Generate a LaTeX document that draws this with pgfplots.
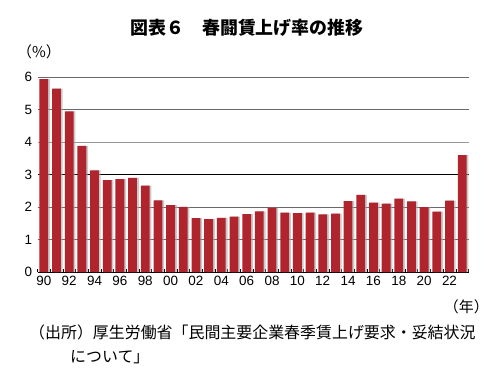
\documentclass[border=0pt]{standalone}
\usepackage{fontspec}
\setmainfont{Liberation Sans}
\newfontfamily\jp{Noto Sans CJK JP}
\usepackage{pgfplots}
\pgfplotsset{compat=1.18}
\definecolor{barred}{RGB}{176,36,46}
\definecolor{gridgray}{RGB}{105,105,105}
\begin{document}
\begin{tikzpicture}
\path[use as bounding box] (0bp,0bp) rectangle (489bp,379bp);
\begin{axis}[
  at={(37.5bp,106.8bp)}, anchor=south west,
  scale only axis, width=431bp, height=195bp,
  xmin=-0.5, xmax=33.5, ymin=0, ymax=6,
  axis x line*=bottom, axis y line*=left,
  x axis line style={black, line width=0.8pt},
  y axis line style={draw=none},
  xtick={0,2,...,32},
  xticklabels={90,92,94,96,98,00,02,04,06,08,10,12,14,16,18,20,22},
  major x tick style={draw=none},
  minor xtick={-0.5,0.5,...,33.5},
  minor x tick style={black, line width=0.6pt},
  minor tick length=3bp, tick align=inside,
  ytick={0,1,...,6},
  major y tick style={draw=none},
  tick label style={font=\fontsize{13.5}{13.5}\selectfont},
  xticklabel style={yshift=-0.5bp},
  yticklabel style={xshift=-2bp},
  /pgf/number format/assume math mode=true,
  clip=false,
]
\draw[draw=gridgray, line width=0.8pt] (axis cs:-0.5,1) -- (axis cs:33.5,1);
\draw[draw=gridgray, line width=0.8pt] (axis cs:-0.5,2) -- (axis cs:33.5,2);
\draw[draw=black, line width=0.8pt] (axis cs:-0.5,3) -- (axis cs:33.5,3);
\draw[draw=gridgray!70, line width=0.8pt] (axis cs:-0.5,4) -- (axis cs:33.5,4);
\draw[draw=gridgray, line width=0.8pt] (axis cs:-0.5,5) -- (axis cs:33.5,5);
\draw[draw=gridgray, line width=0.8pt] (axis cs:-0.5,6) -- (axis cs:33.5,6);
\addplot[ybar, bar width=8.8bp, bar shift=1.8bp, fill=black!35, draw=none, opacity=0.6] coordinates {
(0,5.94)(1,5.65)(2,4.95)(3,3.89)(4,3.13)(5,2.83)(6,2.86)(7,2.90)(8,2.66)(9,2.21)
(10,2.06)(11,2.01)(12,1.66)(13,1.63)(14,1.67)(15,1.71)(16,1.79)(17,1.87)(18,1.99)(19,1.83)
(20,1.82)(21,1.83)(22,1.78)(23,1.80)(24,2.19)(25,2.38)(26,2.14)(27,2.11)(28,2.26)(29,2.18)
(30,2.00)(31,1.86)(32,2.20)(33,3.60)};
\addplot[ybar, bar width=8.8bp, fill=barred, draw=none] coordinates {
(0,5.94)(1,5.65)(2,4.95)(3,3.89)(4,3.13)(5,2.83)(6,2.86)(7,2.90)(8,2.66)(9,2.21)
(10,2.06)(11,2.01)(12,1.66)(13,1.63)(14,1.67)(15,1.71)(16,1.79)(17,1.87)(18,1.99)(19,1.83)
(20,1.82)(21,1.83)(22,1.78)(23,1.80)(24,2.19)(25,2.38)(26,2.14)(27,2.11)(28,2.26)(29,2.18)
(30,2.00)(31,1.86)(32,2.20)(33,3.60)};
\end{axis}
\node[font=\jp\bfseries\fontsize{18}{18}\selectfont] at (247bp,351bp) {図表６　春闘賃上げ率の推移};
\node[font=\jp\fontsize{15}{15}\selectfont, anchor=west, inner sep=0pt] at (17bp,327bp) {（\%）};
\node[font=\jp\fontsize{15}{15}\selectfont, anchor=east, inner sep=0pt] at (489bp,72bp) {（年）};
\node[font=\jp\fontsize{16}{16}\selectfont, anchor=west, inner sep=0pt] at (29bp,47bp) {（出所）厚生労働省「民間主要企業春季賃上げ要求・妥結状況};
\node[font=\jp\fontsize{16}{16}\selectfont, anchor=west, inner sep=0pt] at (70bp,22bp) {について」};
\end{tikzpicture}
\end{document}
